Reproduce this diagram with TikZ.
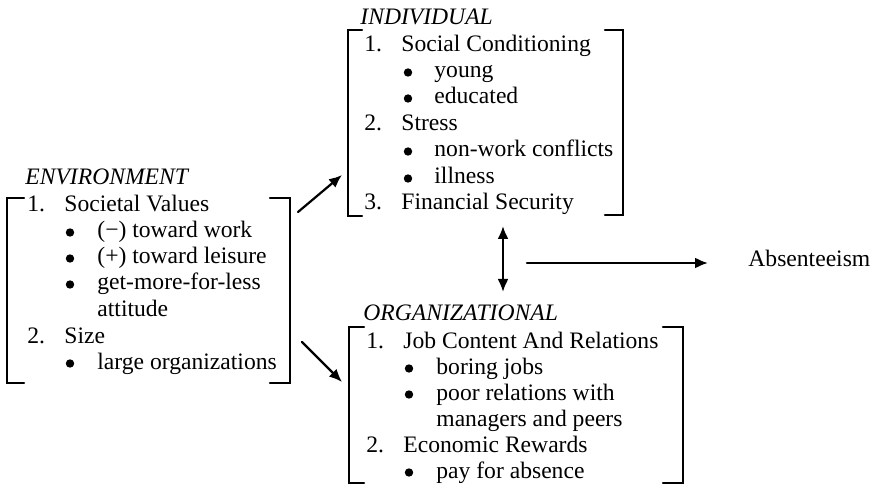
\documentclass[tikz,border=0pt]{standalone}
\usepackage{fontspec}
\setmainfont{Liberation Serif}
\usetikzlibrary{arrows,arrows.meta,calc}
\usepackage{tkz-euclide}

\begin{document}
\begin{tikzpicture}[x=.5pt,y=.5pt,
  txt/.style={anchor=base west,inner sep=0pt,font=\fontsize{11.8}{14}\selectfont},
  ttl/.style={txt,font=\fontsize{11.8}{14}\selectfont\itshape},
  dot/.style={circle,fill=black,inner sep=0pt,minimum size=4.2pt},
  tip/.style={-{Latex[length=6.5pt,width=5.5pt]}},
  tips/.style={{Latex[length=6.5pt,width=5.5pt]}-{Latex[length=6.5pt,width=5.5pt]}}]
\tkzSetUpLine[line width=1.1pt,color=black]

\useasboundingbox (0,0) rectangle (876,487);

\tkzDefPoints{24/289/EA,7/289/EB,7/104/EC,24/104/ED}
\tkzDefPoints{270/289/EE,290/289/EF,290/104/EG,270/104/EH}
\tkzDefPoints{362/457/IA,348/457/IB,348/271/IC,362/271/ID}
\tkzDefPoints{605/457/IE,623/457/IF,623/272/IG,605/272/IH}
\tkzDefPoints{364/160/OA,349/160/OB,349/4/OC,364/4/OD}
\tkzDefPoints{663/160/OE,683/160/OF,683/4/OG,663/4/OH}
\tkzDefPoints{298/275/U1,342/312/U2,302/145/W1,342/105/W2}
\tkzDefPoints{503/261/D1,503/195/D2,527/224/H1,708/224/H2}

% brackets
\tkzDrawPolySeg(EA,EB,EC,ED)
\tkzDrawPolySeg(EE,EF,EG,EH)
\tkzDrawPolySeg(IA,IB,IC,ID)
\tkzDrawPolySeg(IE,IF,IG,IH)
\tkzDrawPolySeg(OA,OB,OC,OD)
\tkzDrawPolySeg(OE,OF,OG,OH)

% arrows
\tkzDrawSegments[tip](U1,U2 W1,W2 H1,H2)
\tkzDrawSegment[tips](D1,D2)

% environment
\node[ttl] (envT) at (25,302) {ENVIRONMENT};
\node[txt] (envN1) at (27,275) {1.};
\node[txt] (envH1) at (64,275) {Societal Values};
\node[dot] (envB1) at (70,254.5) {};
\node[txt] (envL1) at (97,249) {(−) toward work};
\node[dot] (envB2) at (70,228.5) {};
\node[txt] (envL2) at (97,223) {(+) toward leisure};
\node[dot] (envB3) at (70,202.5) {};
\node[txt] (envL3) at (97,197) {get-more-for-less};
\node[txt] (envL4) at (97,170) {attitude};
\node[txt] (envN2) at (27,144) {2.};
\node[txt] (envH2) at (64,144) {Size};
\node[dot] (envB5) at (70,123.5) {};
\node[txt] (envL5) at (97,118) {large organizations};

% individual
\node[ttl] (indT) at (360,462) {INDIVIDUAL};
\node[txt] (indN1) at (364,435) {1.};
\node[txt] (indH1) at (401,435) {Social Conditioning};
\node[dot] (indB1) at (408,414.5) {};
\node[txt] (indL1) at (434,409) {young};
\node[dot] (indB2) at (408,388.5) {};
\node[txt] (indL2) at (434,383) {educated};
\node[txt] (indN2) at (364,356) {2.};
\node[txt] (indH2) at (401,356) {Stress};
\node[dot] (indB3) at (408,335.5) {};
\node[txt] (indL3) at (434,330) {non-work conflicts};
\node[dot] (indB4) at (408,308.5) {};
\node[txt] (indL4) at (434,303) {illness};
\node[txt] (indN3) at (364,277) {3.};
\node[txt] (indH3) at (401,277) {Financial Security};

% organizational
\node[ttl] (orgT) at (363,167) {ORGANIZATIONAL};
\node[txt] (orgN1) at (366,139) {1.};
\node[txt] (orgH1) at (403,139) {Job Content And Relations};
\node[dot] (orgB1) at (409,118.5) {};
\node[txt] (orgL1) at (436,113) {boring jobs};
\node[dot] (orgB2) at (409,92.5) {};
\node[txt] (orgL2) at (436,87) {poor relations with};
\node[txt] (orgL3) at (436,61) {managers and peers};
\node[txt] (orgN2) at (366,35) {2.};
\node[txt] (orgH2) at (403,35) {Economic Rewards};
\node[dot] (orgB4) at (409,14.5) {};
\node[txt] (orgL4) at (436,9) {pay for absence};

\node[txt] (abs) at (748,220) {Absenteeism};

\end{tikzpicture}
\end{document}
